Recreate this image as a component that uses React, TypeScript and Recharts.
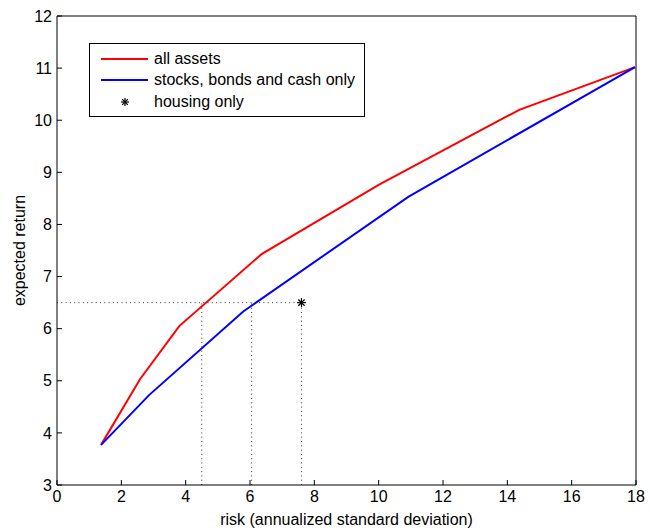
import React from 'react';
import { ComposedChart, Line, Scatter, XAxis, YAxis, ReferenceLine, Legend } from 'recharts';

const allAssetsRisk = [1.37, 2.58, 3.8, 6.36, 10.0, 14.37, 17.97];
const allAssetsReturn = [3.77, 5.03, 6.05, 7.43, 8.76, 10.2, 11.02];
const sbcRisk = [1.37, 2.87, 5.79, 10.92, 17.97];
const sbcReturn = [3.77, 4.73, 6.33, 8.53, 11.02];
const housingRisk = 7.6;
const housingReturn = 6.5;
// risk needed by each frontier to reach the housing return
const matchRisk = [4.5, 6.05];

const xTicks = [0, 2, 4, 6, 8, 10, 12, 14, 16, 18];
const yTicks = [3, 4, 5, 6, 7, 8, 9, 10, 11, 12];
const seriesNames = ['all assets', 'stocks, bonds and cash only', 'housing only'];

const allAssets = allAssetsRisk.map((r, i) => ({ risk: r, ret: allAssetsReturn[i] }));
const sbc = sbcRisk.map((r, i) => ({ risk: r, ret: sbcReturn[i] }));
const housing = [{ risk: housingRisk, ret: housingReturn }];

const FONT = '"Liberation Sans", Arial, Helvetica, sans-serif';
const FS = 16;
const TICK = 5;

// matlab style: tick marks point into the plot box
const BottomTick = ({ x, y, payload }: any) => (
  <g>
    <line x1={x} y1={y - 6} x2={x} y2={y - 6 - TICK} stroke="#000" />
    <text x={x} y={y} dy="0.71em" textAnchor="middle" fill="#000" fontSize={FS} fontFamily={FONT}>
      {payload.value}
    </text>
  </g>
);
const LeftTick = ({ x, y, payload }: any) => (
  <g>
    <line x1={x + 5} y1={y} x2={x + 5 + TICK} y2={y} stroke="#000" />
    <text x={x} y={y} dy="0.355em" textAnchor="end" fill="#000" fontSize={FS} fontFamily={FONT}>
      {payload.value}
    </text>
  </g>
);
const TopTick = ({ x, y }: any) => <line x1={x} y1={y} x2={x} y2={y + TICK} stroke="#000" />;
const RightTick = ({ x, y }: any) => <line x1={x} y1={y} x2={x - TICK} y2={y} stroke="#000" />;

const Asterisk = ({ cx, cy, r = 4 }: any) => (
  <g stroke="#000" strokeWidth={1.2}>
    <line x1={cx - r} y1={cy} x2={cx + r} y2={cy} />
    <line x1={cx} y1={cy - r} x2={cx} y2={cy + r} />
    <line x1={cx - r * 0.7} y1={cy - r * 0.7} x2={cx + r * 0.7} y2={cy + r * 0.7} />
    <line x1={cx - r * 0.7} y1={cy + r * 0.7} x2={cx + r * 0.7} y2={cy - r * 0.7} />
  </g>
);

function LegendBox({ payload }: any) {
  const items = [...(payload || [])].sort(
    (a: any, b: any) => seriesNames.indexOf(a.value) - seriesNames.indexOf(b.value)
  );
  return (
    <div
      style={{
        width: 276,
        height: 74,
        border: '1px solid #000',
        background: '#fff',
        fontFamily: FONT,
        fontSize: FS,
        color: '#000',
        paddingTop: 4,
        boxSizing: 'border-box',
      }}
    >
      {items.map((p: any) => (
        <div key={p.value} style={{ display: 'flex', alignItems: 'center', height: 21.5 }}>
          <svg width={62} height={12} style={{ marginLeft: 2 }}>
            {p.type === 'star' ? (
              <Asterisk cx={33} cy={6} r={4} />
            ) : (
              <line x1={9} y1={6} x2={56} y2={6} stroke={p.color} strokeWidth={2} />
            )}
          </svg>
          <span>{p.value}</span>
        </div>
      ))}
    </div>
  );
}

const dotted = { stroke: '#333', strokeDasharray: '1 3.3', strokeWidth: 1 };

export default function App() {
  return (
    <div style={{ position: 'absolute', left: 0, top: 0, background: '#fff' }}>
      <ComposedChart
        width={650}
        height={530}
        margin={{ top: 15, right: 13, bottom: 0, left: 0 }}
        style={{ fontFamily: FONT }}
      >
        <XAxis
          xAxisId="b"
          type="number"
          dataKey="risk"
          domain={[0, 18]}
          ticks={xTicks}
          interval={0}
          height={45}
          tickSize={0}
          tickMargin={6}
          tickLine={false}
          stroke="#000"
          tick={<BottomTick />}
          label={{ value: 'risk (annualized standard deviation)', position: 'insideBottom', offset: 5, fill: '#000', fontSize: FS }}
        />
        <XAxis
          xAxisId="t"
          orientation="top"
          type="number"
          dataKey="risk"
          domain={[0, 18]}
          ticks={xTicks}
          interval={0}
          height={1}
          tickSize={0}
          tickMargin={0}
          tickLine={false}
          stroke="#000"
          tick={<TopTick />}
        />
        <YAxis
          yAxisId="l"
          type="number"
          dataKey="ret"
          domain={[3, 12]}
          ticks={yTicks}
          interval={0}
          width={57}
          tickSize={0}
          tickMargin={5}
          tickLine={false}
          stroke="#000"
          tick={<LeftTick />}
          label={{ value: 'expected return', angle: -90, position: 'insideLeft', offset: 19, fill: '#000', fontSize: FS, style: { textAnchor: 'middle' } }}
        />
        <YAxis
          yAxisId="r"
          orientation="right"
          type="number"
          dataKey="ret"
          domain={[3, 12]}
          ticks={yTicks}
          interval={0}
          width={1}
          tickSize={0}
          tickMargin={0}
          tickLine={false}
          stroke="#000"
          tick={<RightTick />}
        />
        <ReferenceLine xAxisId="b" yAxisId="l" segment={[{ x: 0, y: housingReturn }, { x: housingRisk, y: housingReturn }]} {...dotted} />
        {matchRisk.map((r) => (
          <ReferenceLine key={r} xAxisId="b" yAxisId="l" segment={[{ x: r, y: 3 }, { x: r, y: housingReturn }]} {...dotted} />
        ))}
        <ReferenceLine xAxisId="b" yAxisId="l" segment={[{ x: housingRisk, y: 3 }, { x: housingRisk, y: housingReturn }]} {...dotted} />
        <Line
          xAxisId="b"
          yAxisId="l"
          data={allAssets}
          dataKey="ret"
          name="all assets"
          type="linear"
          stroke="#ff0000"
          strokeWidth={2}
          dot={false}
          isAnimationActive={false}
        />
        <Line
          xAxisId="b"
          yAxisId="l"
          data={sbc}
          dataKey="ret"
          name="stocks, bonds and cash only"
          type="linear"
          stroke="#0000ff"
          strokeWidth={2}
          dot={false}
          isAnimationActive={false}
        />
        <Scatter
          xAxisId="b"
          yAxisId="l"
          data={housing}
          dataKey="ret"
          name="housing only"
          fill="#000"
          legendType="star"
          shape={(p: any) => <Asterisk cx={p.cx} cy={p.cy} r={4.5} />}
          isAnimationActive={false}
        />
        <Legend
          layout="vertical"
          align="center"
          verticalAlign="middle"
          content={<LegendBox />}
          wrapperStyle={{ left: 89, top: 43, width: 276, height: 74 }}
        />
      </ComposedChart>
    </div>
  );
}
